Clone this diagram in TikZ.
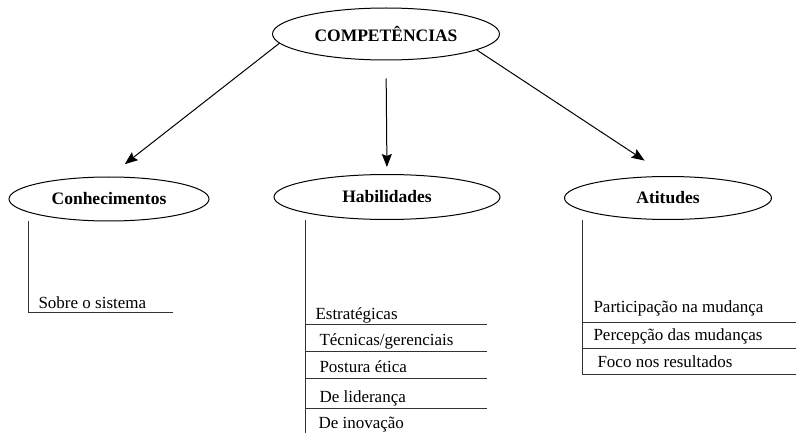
\documentclass[tikz,border=0pt]{standalone}
\usepackage{fontspec}
\setmainfont{Liberation Serif}
\usepackage{tikz}
\usetikzlibrary{shapes.geometric,arrows.meta}
\tikzstyle{comp} = [ellipse, draw, fill=white, inner sep=0pt, font=\fontsize{17.5}{20}\selectfont\bfseries]
\tikzstyle{item} = [anchor=base west, inner sep=0pt, font=\fontsize{17}{20}\selectfont]
\tikzstyle{rule} = [line width=1pt, black!80]

\begin{document}
\begin{tikzpicture}[x=1pt,y=-1pt,>={Stealth[length=13pt,width=10pt,inset=2pt]},line width=1pt]
  \useasboundingbox (0,0) rectangle (796,433);

  \node[comp, minimum width=227pt, minimum height=52pt] (C) at (386,34) {COMPETÊNCIAS};
  \node[comp, minimum width=200pt, minimum height=44pt] (K) at (109,199) {Conhecimentos};
  \node[comp, minimum width=226pt, minimum height=45pt] (H) at (387,197) {Habilidades};
  \node[comp, minimum width=207pt, minimum height=43pt] (A) at (668,198) {Atitudes};

  \path[->] (C.185) edge[shorten >=20pt] (K.north);
  \path[->] (C.south) edge[shorten <=18pt, shorten >=7pt] (H.north);
  \path[->] (C.-10) edge[shorten >=28pt] (A.north);

  % Conhecimentos
  \coordinate (K_a) at (28,221);
  \coordinate (K_b) at (28,312);
  \draw[rule] (K_a) -- (K_b) -- (173,312);
  \node[item] (K1) at (38,308) {Sobre o sistema};

  % Habilidades
  \coordinate (H_a) at (305,220);
  \coordinate (H_b) at (305,433);
  \draw[rule] (H_a) -- (H_b);
  \draw[rule] (305,324) -- (487,324);
  \draw[rule] (305,351) -- (487,351);
  \draw[rule] (305,378) -- (487,378);
  \draw[rule] (305,408) -- (487,408);
  \node[item] (H1) at (315,319) {Estratégicas};
  \node[item] (H2) at (319,345) {Técnicas/gerenciais};
  \node[item] (H3) at (319,372) {Postura ética};
  \node[item] (H4) at (319,402) {De liderança};
  \node[item] (H5) at (318,428) {De inovação};

  % Atitudes
  \coordinate (A_a) at (582,220);
  \coordinate (A_b) at (582,374);
  \draw[rule] (A_a) -- (A_b) -- (796,374);
  \draw[rule] (582,322) -- (796,322);
  \draw[rule] (582,348) -- (796,348);
  \node[item] (A1) at (593,312) {Participação na mudança};
  \node[item] (A2) at (593,340) {Percepção das mudanças};
  \node[item] (A3) at (597,367) {Foco nos resultados};
\end{tikzpicture}
\end{document}
